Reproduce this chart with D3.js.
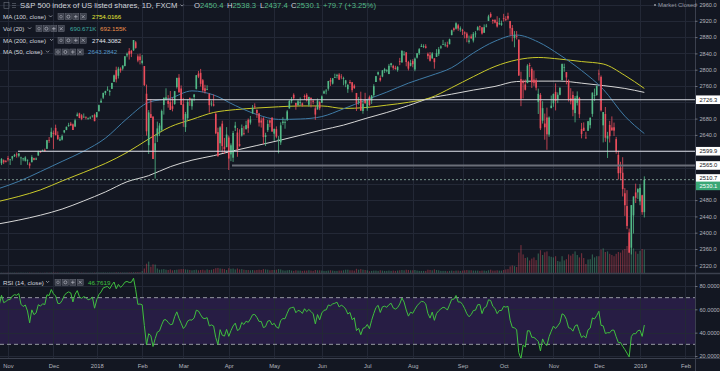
<!DOCTYPE html>
<html><head><meta charset="utf-8">
<script src="https://cdn.jsdelivr.net/npm/d3@7"></script>
<style>html,body{margin:0;padding:0;background:#131722;overflow:hidden}svg{display:block}text{font-family:"Liberation Sans",Arial,sans-serif}</style>
</head><body><svg id="c" width="720" height="371"></svg>
<script>
// ---- DATA (daily bars, Oct 2 2017 .. Jan 4 2019) ----
const opens=[2521.2,2530.3,2533.5,2540.9,2547.4,2551.4,2550.0,2550.6,2552.9,2555.7,2555.6,2557.2,2562.9,2553.4,2567.6,2578.1,2568.7,2566.5,2560.1,2570.3,2577.8,2576.0,
2583.2,2579.5,2581.9,2587.5,2592.1,2588.7,2584.0,2580.2,2576.5,2577.8,2569.4,2572.9,2582.9,2579.5,2589.2,2600.3,2600.4,2602.7,2605.9,2627.8,2633.9,
2645.1,2657.2,2639.8,2626.2,2628.4,2646.2,2652.2,2661.7,2667.6,2665.9,2660.6,2685.9,2692.7,2688.2,2683.0,2684.2,2679.1,2682.1,2686.1,2689.2,
2683.7,2697.9,2719.3,2731.3,2742.7,2751.2,2745.6,2753.0,2770.2,2799.0,2785.0,2802.4,2802.6,2809.2,2835.1,2845.4,2846.2,2847.5,2867.2,2832.7,2832.4,
2816.5,2808.9,2741.1,2614.8,2691.0,2685.0,2601.8,2636.8,2646.3,2651.8,2713.5,2727.1,2723.0,2720.5,2710.4,2715.8,2757.4,2780.5,2753.8,
2715.2,2658.9,2681.1,2730.2,2710.2,2732.8,2752.9,2790.5,2792.3,2774.1,2754.3,2750.6,2741.4,2715.1,2715.0,2691.4,2646.7,2619.4,2667.6,2611.3,2610.0,
2633.5,2592.2,2584.0,2657.4,2645.8,2617.2,2638.4,2643.9,2653.8,2676.9,2670.1,2692.7,2710.1,2701.2,2692.6,2675.4,2680.8,2634.9,2651.7,2675.5,2682.5,
2643.0,2654.2,2628.1,2621.5,2669.4,2670.3,2678.1,2705.0,2722.7,2738.4,2718.6,2712.6,2719.7,2717.4,2735.4,2738.3,2714.0,2730.9,2723.6,2705.1,2702.4,2721.0,
2718.7,2741.7,2748.5,2753.3,2774.8,2765.8,2780.2,2785.6,2787.9,2783.2,2777.8,2765.8,2752.0,2769.7,2769.3,2760.8,2742.9,2722.1,2728.5,2698.7,2727.1,
2705.0,2733.3,2724.2,2737.7,2769.8,2788.6,2779.8,2783.1,2796.9,2797.4,2789.3,2811.4,2809.4,2804.6,2799.2,2820.7,2817.7,2835.5,2842.4,2819.0,2809.7,
2821.2,2800.5,2829.6,2840.3,2855.9,2856.8,2857.2,2838.9,2835.5,2827.9,2828.0,2831.4,2838.3,2853.9,2861.5,2861.0,2860.3,2862.4,2884.7,2901.5,2900.6,2908.9,2898.4,
2897.0,2891.6,2888.6,2868.3,2881.4,2871.6,2888.3,2896.9,2906.4,2903.8,2890.7,2906.6,2919.7,2936.8,2921.8,2921.8,2917.0,2911.7,2910.0,
2926.3,2923.8,2931.7,2919.4,2902.5,2877.5,2882.5,2873.9,2776.9,2770.5,2763.8,2767.1,2811.7,2802.0,2775.7,2773.9,2721.0,2737.9,2674.9,2667.9,2682.7,2640.7,2705.6,
2717.6,2745.5,2726.4,2738.4,2774.1,2806.4,2794.1,2773.9,2730.1,2737.9,2693.5,2718.5,2730.7,2654.6,2657.7,2633.4,2650.0,2663.8,2691.5,2737.0,2737.8,
2790.5,2782.4,2663.5,2691.3,2630.9,2664.4,2658.2,2658.7,2629.7,2590.8,2559.9,2547.1,2496.8,2465.4,2400.6,2363.1,2442.5,2498.8,2498.9,
2477.0,2491.9,2450.4];
const highs=[2529.2,2535.1,2540.5,2552.5,2549.4,2551.8,2555.2,2555.2,2555.3,2557.7,2559.5,2559.7,2564.2,2562.4,2575.4,2578.3,2572.2,2567.4,2567.1,2583.0,2580.0,2578.3,
2588.4,2581.1,2588.4,2593.4,2597.0,2595.5,2586.5,2583.8,2587.7,2579.7,2572.8,2590.1,2584.0,2584.6,2601.2,2600.9,2604.2,2606.4,2627.7,2634.9,2657.7,
2650.6,2665.2,2648.7,2634.4,2641.0,2651.7,2660.3,2669.7,2671.9,2668.1,2679.6,2695.0,2694.4,2691.0,2692.6,2685.4,2682.7,2685.6,2687.7,2692.1,
2695.9,2714.4,2729.3,2743.5,2748.5,2759.1,2750.8,2767.6,2787.9,2807.5,2807.0,2805.8,2810.3,2833.0,2842.2,2853.0,2848.6,2872.9,2870.6,2837.8,2839.3,
2836.0,2808.9,2763.4,2701.0,2727.7,2685.3,2638.7,2672.6,2668.8,2702.1,2731.5,2754.4,2737.6,2747.8,2731.3,2747.8,2780.6,2789.2,2761.5,
2730.9,2696.3,2728.1,2732.1,2730.6,2740.5,2786.6,2797.0,2801.9,2777.1,2763.0,2761.9,2741.4,2724.2,2739.1,2695.7,2657.7,2661.4,2674.8,2632.7,2659.1,
2638.3,2619.1,2649.9,2672.1,2656.9,2653.6,2665.5,2661.4,2674.7,2680.3,2686.5,2713.3,2717.5,2702.8,2693.9,2682.9,2683.6,2645.3,2676.5,2677.4,2682.9,
2655.3,2660.9,2637.1,2670.9,2683.4,2676.3,2701.3,2726.1,2732.9,2742.1,2718.6,2727.8,2732.0,2719.5,2739.2,2742.2,2733.3,2732.0,2727.4,2710.7,2729.3,2722.5,
2736.9,2749.2,2752.6,2772.4,2779.9,2779.4,2790.2,2789.8,2791.5,2789.1,2782.8,2775.0,2765.1,2774.9,2769.3,2764.2,2742.9,2732.9,2746.1,2724.3,2743.3,
2727.3,2736.6,2737.8,2764.4,2784.7,2795.6,2785.9,2799.2,2804.5,2801.2,2814.2,2816.8,2812.1,2809.7,2808.6,2829.0,2848.0,2845.6,2843.2,2821.7,2824.5,
2825.8,2829.9,2840.4,2853.3,2863.4,2862.4,2862.5,2842.2,2843.4,2843.1,2828.0,2850.5,2855.6,2859.8,2873.2,2867.5,2868.8,2876.2,2898.3,2903.8,2916.5,2912.5,2906.3,
2900.2,2894.2,2892.1,2883.8,2886.9,2892.5,2894.7,2906.8,2908.3,2904.7,2911.2,2912.4,2934.8,2940.9,2923.8,2924.0,2931.2,2927.2,2920.5,
2937.1,2931.4,2939.9,2919.8,2909.6,2894.8,2894.8,2874.0,2795.1,2775.8,2776.0,2813.5,2816.9,2806.0,2797.8,2778.9,2753.6,2742.6,2722.7,2692.4,2706.9,2685.4,2736.7,
2741.7,2766.3,2744.3,2756.8,2815.2,2814.8,2794.1,2776.0,2754.6,2746.8,2735.4,2746.8,2733.2,2669.4,2670.7,2647.6,2674.4,2682.5,2744.0,2753.8,2760.9,
2800.2,2785.9,2696.1,2708.5,2647.5,2674.4,2685.4,2670.2,2635.1,2601.1,2574.0,2585.3,2509.6,2504.4,2410.3,2467.8,2489.1,2520.3,2509.2,
2519.5,2493.1,2538.3];
const lows=[2520.4,2528.9,2531.8,2540.0,2543.8,2541.6,2544.9,2547.9,2547.0,2552.0,2554.0,2554.0,2559.7,2547.9,2567.6,2564.3,2565.6,2544.0,2559.5,2565.9,2568.3,2572.2,
2574.9,2566.2,2576.8,2585.7,2584.1,2585.0,2566.3,2575.6,2574.5,2566.6,2557.4,2572.9,2577.6,2578.2,2589.2,2596.2,2600.4,2598.9,2605.4,2620.3,2633.9,
2605.5,2639.1,2627.7,2624.8,2626.5,2644.1,2651.5,2659.8,2662.9,2652.0,2659.1,2685.9,2680.7,2676.1,2682.4,2678.1,2678.0,2678.9,2682.7,2673.6,
2682.4,2697.8,2719.1,2727.9,2737.6,2747.9,2736.1,2752.8,2769.6,2768.6,2778.4,2792.6,2798.1,2808.1,2830.6,2824.8,2830.9,2846.2,2851.5,2818.3,2813.0,
2812.7,2760.0,2638.2,2593.1,2681.3,2580.6,2532.7,2622.4,2637.1,2648.9,2689.8,2725.1,2706.8,2701.3,2697.8,2713.7,2753.8,2744.2,2713.5,
2659.7,2647.3,2675.8,2711.3,2701.7,2722.7,2751.5,2779.3,2758.7,2744.4,2741.5,2750.0,2694.6,2710.1,2709.8,2641.6,2585.9,2601.8,2596.1,2593.1,2609.7,
2553.8,2575.5,2573.6,2649.6,2586.3,2610.8,2635.8,2639.3,2653.8,2645.1,2665.2,2692.1,2703.6,2681.9,2660.6,2658.0,2617.3,2612.7,2647.2,2659.0,2648.0,
2625.4,2631.7,2594.6,2615.3,2664.7,2655.2,2674.1,2704.5,2717.5,2725.9,2701.9,2712.2,2711.4,2709.2,2725.7,2721.9,2709.5,2707.4,2715.0,2676.8,2702.4,2700.7,
2718.7,2740.5,2739.5,2748.5,2760.2,2763.6,2779.9,2778.8,2774.7,2776.5,2761.7,2757.1,2743.2,2763.9,2744.4,2752.7,2698.7,2714.3,2699.0,2692.0,2716.0,
2699.0,2711.2,2716.0,2733.5,2769.8,2786.2,2770.8,2781.5,2791.7,2793.4,2789.2,2805.9,2799.8,2800.0,2795.1,2811.1,2817.7,2835.3,2808.3,2798.1,2808.1,
2805.9,2796.3,2827.4,2836.0,2855.9,2853.1,2852.0,2825.8,2819.9,2826.6,2802.5,2831.4,2833.7,2850.6,2861.3,2856.1,2854.0,2862.4,2884.7,2893.5,2898.4,2895.2,2893.0,
2885.1,2876.9,2867.3,2864.1,2875.9,2866.8,2879.2,2896.4,2895.8,2886.2,2890.4,2903.8,2919.7,2927.1,2912.6,2913.7,2903.3,2909.3,2907.5,
2917.9,2919.4,2921.4,2883.9,2869.3,2855.0,2874.3,2784.9,2710.5,2729.4,2749.0,2766.9,2781.8,2755.2,2760.3,2749.2,2691.4,2651.9,2667.8,2628.2,2603.5,2635.3,2705.6,
2708.9,2700.0,2717.9,2737.1,2774.1,2795.0,2764.2,2722.0,2715.0,2685.8,2670.8,2712.2,2681.1,2631.5,2649.8,2631.1,2650.0,2655.9,2684.4,2722.9,2736.0,
2773.4,2697.2,2621.5,2623.1,2583.2,2621.3,2650.3,2637.3,2593.8,2530.5,2528.7,2489.0,2441.2,2408.6,2351.1,2346.6,2397.9,2472.9,2482.8,
2467.5,2444.0,2437.4];
const closes=[2529.1,2534.6,2537.7,2552.1,2549.3,2544.7,2550.6,2555.2,2550.9,2553.2,2557.6,2559.4,2561.3,2562.1,2575.2,2565.0,2569.1,2557.2,2560.4,2581.1,2572.8,2575.3,
2579.4,2579.9,2587.8,2591.1,2590.6,2594.4,2584.6,2582.3,2584.8,2578.9,2564.6,2585.6,2578.9,2582.1,2599.0,2597.1,2602.4,2601.4,2627.0,2626.1,2647.6,
2642.2,2639.4,2629.6,2629.3,2637.0,2651.5,2660.0,2664.1,2662.9,2652.0,2675.8,2690.2,2681.5,2679.2,2684.6,2683.3,2680.5,2682.6,2687.5,2673.6,
2695.8,2713.1,2724.0,2743.2,2747.7,2751.3,2748.2,2767.6,2786.2,2776.4,2802.6,2798.0,2810.3,2833.0,2839.1,2837.5,2839.3,2872.9,2853.5,2822.4,2823.8,
2822.0,2762.1,2648.9,2695.1,2681.7,2581.0,2619.6,2656.0,2662.9,2698.6,2731.2,2732.2,2716.3,2701.3,2704.0,2747.3,2779.6,2744.3,2713.8,
2677.7,2691.3,2720.9,2728.1,2726.8,2739.0,2786.6,2783.0,2765.3,2749.5,2747.3,2752.0,2712.9,2716.9,2711.9,2643.7,2588.3,2658.6,2612.6,2605.0,2640.9,
2581.9,2614.5,2644.7,2662.8,2604.5,2613.2,2656.9,2642.2,2664.0,2656.3,2677.8,2706.4,2708.6,2693.1,2670.1,2670.3,2634.6,2639.4,2666.9,2669.9,2648.1,
2654.8,2635.7,2629.7,2663.4,2672.6,2671.9,2697.8,2723.1,2727.7,2730.1,2711.5,2722.5,2720.1,2713.0,2733.0,2724.4,2733.3,2727.8,2721.3,2689.9,2724.0,2705.3,
2734.6,2746.9,2748.8,2772.4,2770.4,2779.0,2782.0,2786.9,2775.6,2782.5,2779.7,2773.9,2762.6,2767.3,2749.8,2754.9,2717.1,2723.1,2699.6,2716.3,2718.4,
2726.7,2713.2,2736.6,2759.8,2784.2,2793.8,2774.0,2798.3,2801.3,2798.4,2809.6,2815.6,2804.5,2801.8,2807.0,2820.4,2846.1,2837.4,2818.8,2802.6,2816.3,
2813.4,2827.2,2840.4,2850.4,2858.5,2857.7,2853.6,2833.3,2821.9,2840.0,2818.4,2840.7,2850.1,2857.1,2863.0,2861.8,2857.0,2874.7,2896.7,2897.5,2914.0,2901.1,2901.5,
2896.7,2888.6,2878.1,2871.7,2877.1,2887.9,2888.9,2904.2,2905.0,2888.8,2904.3,2908.0,2930.8,2929.7,2919.4,2915.6,2906.0,2914.0,2914.0,
2924.6,2923.4,2925.5,2901.6,2885.6,2884.4,2880.3,2785.7,2728.4,2767.1,2750.8,2809.9,2809.2,2768.8,2767.8,2755.9,2740.7,2656.1,2705.6,2658.7,2641.3,2682.6,2711.7,
2740.4,2723.1,2738.3,2755.5,2813.9,2806.8,2781.0,2726.2,2722.2,2701.6,2730.2,2736.3,2690.7,2641.9,2649.9,2632.6,2673.5,2682.2,2743.8,2737.8,2760.2,
2790.4,2700.1,2696.0,2633.1,2637.7,2636.8,2651.1,2650.5,2600.0,2545.9,2546.2,2507.0,2467.4,2416.6,2351.1,2467.7,2488.8,2485.7,2506.9,
2510.0,2450.4,2530.1];
// volume in thousands
const volumes=[4,3,5,4,3,4,5,3,4,5,4,3,5,4,6,5,4,6,5,6,5,4,
8,9,7,10,8,9,12,10,8,11,13,10,9,8,10,7,6,9,14,12,15,
16,12,14,11,10,12,11,13,12,14,15,13,12,11,10,9,8,9,10,12,
14,16,15,18,14,15,17,16,18,22,20,18,17,16,18,20,22,24,26,30,28,
60,150,310,380,210,290,280,150,110,120,130,110,100,120,90,100,110,120,130,
130,120,110,100,90,100,110,90,100,110,90,120,100,110,130,160,170,150,140,130,100,
160,140,150,120,150,120,130,110,100,100,90,100,90,100,110,100,130,120,110,90,100,
100,110,130,120,90,80,90,100,80,70,90,80,80,70,80,80,90,80,70,100,90,90,
80,70,70,80,90,80,70,70,80,80,90,110,110,90,90,80,140,110,130,110,100,
90,60,70,80,80,70,90,80,70,70,80,70,80,70,80,90,100,90,110,100,90,
90,100,80,70,70,70,70,110,100,90,120,100,90,70,70,70,60,70,80,70,80,80,70,
80,90,100,90,90,80,80,80,70,80,80,70,90,110,80,80,90,80,80,
100,120,130,220,250,230,200,680,930,620,500,520,420,480,520,430,650,760,600,690,720,560,540,
520,560,400,380,560,420,460,620,580,640,720,600,520,660,500,300,450,460,620,520,560,
560,780,820,700,720,640,600,560,640,700,680,760,800,900,700,840,820,720,640,
740,800,780];
// moving averages at these bar numbers
const maIdx=[17,27,37,47,57,67,77,87,97,107,117,127,137,147,157,167,177,187,197,207,217,227,237,247,257,267,277,287,297,307,316];
const ma200=[2421,2431,2443,2458,2478,2500,2525,2540,2562,2578,2589,2602,2614,2626,2639,2652,2664,2680,2695,2712,2730,2740,2750,2759,2771,2772,2772,2767,2761,2754,2744.3];
const ma100=[2476,2489,2505,2527,2548,2570,2597,2630,2660,2678,2695,2702,2706,2709,2711,2711,2705,2707,2713,2720,2731,2756,2783,2808,2824,2830,2826,2820,2814,2786,2754.0];
const ma50=[2507,2526,2550,2575,2600,2632,2680,2720,2730,2748,2738,2712,2690,2678,2679,2685,2704,2725,2745,2767,2785,2805,2841,2870,2885,2868,2836,2798,2752,2686,2643.3];
// time axis: labels and the bar numbers they sit on
const monthLabels=["Nov","Dec","2018","Feb","Mar","Apr","May","Jun","Jul","Aug","Sep","Oct","Nov","Dec","2019","Feb"];
const monthIdx=[22,43,63,84,103,124,145,167,188,209,232,251,274,295,314,335];
const priceTicks=[2320,2360,2400,2440,2480,2520,2560,2600,2640,2680,2720,2760,2800,2840,2880,2920,2960];
const rsiTicks=[20,40,60,80];
const hLines=[2726.3,2599.9,2565.0,2510.7];
const titleText="S&P 500 index of US listed shares, 1D, FXCM";
const ohlcLabels=["O","H","L","C"];
const ohlcValues=["2450.4","2538.3","2437.4","2530.1"];
const changeText="+79.7 (+3.25%)";
const legendRows=[
 {name:"MA (100, close)",vals:["2754.0166"]},
 {name:"Vol (20)",vals:["690.671K","692.155K"]},
 {name:"MA (200, close)",vals:["2744.3082"]},
 {name:"MA (50, close)",vals:["2643.2842"]}];
const rsiName="RSI (14, close)", rsiValue="46.7619";

// ---- LAYOUT ----
const W=720,H=371,PR=695,MB=273,RT=274,RB=358;
const BG="#131722",GRID="#232836",UP="#53b987",DN="#eb4d5c",TXT="#b2b5be";
const x=d3.scaleLinear().domain([22,314]).range([8,640]);
const y=d3.scaleLinear().domain([2320,2960]).range([265.3,4.5]);
const yV=d3.scaleLinear().domain([0,1000]).range([MB,243]);
const yR=d3.scaleLinear().domain([20,80]).range([356,286]);
const lastClose=closes[closes.length-1];

const svg=d3.select("#c");
svg.append("rect").attr("width",W).attr("height",H).attr("fill",BG);
const defs=svg.append("defs");
defs.append("clipPath").attr("id","cm").append("rect").attr("x",0).attr("y",0).attr("width",PR).attr("height",MB);
defs.append("clipPath").attr("id","cr").append("rect").attr("x",0).attr("y",RT).attr("width",PR).attr("height",RB-RT);

// grid
const g=svg.append("g").attr("stroke",GRID).attr("stroke-width",1);
g.selectAll("line.h").data(priceTicks).join("line").attr("x1",0).attr("x2",PR)
 .attr("y1",d=>Math.round(y(d))+0.5).attr("y2",d=>Math.round(y(d))+0.5);
g.selectAll("line.v").data(monthIdx).join("line").attr("class","v").attr("y1",0).attr("y2",RB)
 .attr("x1",d=>Math.round(x(d))+0.5).attr("x2",d=>Math.round(x(d))+0.5);

// RSI pane background band + grid
const rp=svg.append("g").attr("clip-path","url(#cr)");
rp.append("rect").attr("x",0).attr("width",PR).attr("y",yR(70)).attr("height",yR(30)-yR(70)).attr("fill","#271d44");
rp.selectAll("line.rg").data(rsiTicks).join("line").attr("x1",0).attr("x2",PR)
 .attr("y1",d=>Math.round(yR(d))+0.5).attr("y2",d=>Math.round(yR(d))+0.5).attr("stroke",GRID);
rp.selectAll("line.v").data(monthIdx).join("line").attr("y1",RT).attr("y2",RB)
 .attr("x1",d=>Math.round(x(d))+0.5).attr("x2",d=>Math.round(x(d))+0.5).attr("stroke",GRID);
rp.selectAll("line.dl").data([70,30]).join("line").attr("x1",0).attr("x2",PR)
 .attr("y1",d=>yR(d)).attr("y2",d=>yR(d)).attr("stroke","#9598a1").attr("stroke-dasharray","4,3").attr("stroke-width",1);

const bars=closes.map((c,i)=>({i,o:opens[i],h:highs[i],l:lows[i],c,v:volumes[i]}));
const main=svg.append("g").attr("clip-path","url(#cm)");

// volume
main.selectAll("rect.vol").data(bars).join("rect")
 .attr("x",d=>x(d.i)-0.6).attr("width",1.2).attr("y",d=>yV(d.v)).attr("height",d=>MB-yV(d.v))
 .attr("fill",d=>d.c>=d.o?UP:DN).attr("opacity",0.42);

// moving averages
function maSeries(vals){return maIdx.map((i,k)=>({i,v:vals[k]}));}
const ml=d3.line().x(d=>x(d.i)).y(d=>y(d.v)).curve(d3.curveMonotoneX);
[[ma200,"#d6d6d6"],[ma100,"#c9c92a"],[ma50,"#3f7ba6"]].forEach(([v,col])=>{
 main.append("path").datum(maSeries(v)).attr("d",ml).attr("fill","none").attr("stroke",col).attr("stroke-width",1);
});

// candles
const cg=main.append("g");
cg.selectAll("line.w").data(bars).join("line")
 .attr("x1",d=>x(d.i)).attr("x2",d=>x(d.i)).attr("y1",d=>y(d.h)).attr("y2",d=>y(d.l))
 .attr("stroke",d=>d.c>=d.o?UP:DN).attr("stroke-width",0.8);
cg.selectAll("rect.b").data(bars).join("rect")
 .attr("x",d=>x(d.i)-0.8).attr("width",1.6)
 .attr("y",d=>y(Math.max(d.o,d.c))).attr("height",d=>Math.max(0.8,Math.abs(y(d.o)-y(d.c))))
 .attr("fill",d=>d.c>=d.o?UP:DN);

// horizontal drawn levels
const hStyle=[{x0:147,col:"#d1d4dc",w:1},{x0:18,col:"#e0e3eb",w:1},{x0:232,col:"#6b6e78",w:2}];
hStyle.forEach((s,k)=>{const p=hLines[k];
 main.append("line").attr("x1",s.x0).attr("x2",PR).attr("y1",y(p)).attr("y2",y(p)).attr("stroke",s.col).attr("stroke-width",s.w);
});
// last price line
main.append("line").attr("x1",0).attr("x2",PR).attr("y1",y(lastClose)).attr("y2",y(lastClose))
 .attr("stroke","#8fb3a4").attr("stroke-width",0.8).attr("stroke-dasharray","2,2");

// RSI line (Wilder, 14)
function rsi(c,n){const out=c.map(()=>null);let gs=0,ls=0;
 for(let i=1;i<=n;i++){const d=c[i]-c[i-1];if(d>0)gs+=d;else ls-=d;}
 gs/=n;ls/=n;out[n]=100-100/(1+gs/ls);
 for(let i=n+1;i<c.length;i++){const d=c[i]-c[i-1];gs=(gs*(n-1)+Math.max(d,0))/n;ls=(ls*(n-1)+Math.max(-d,0))/n;out[i]=ls===0?100:100-100/(1+gs/ls);}
 return out;}
const rsiVals=rsi(closes,14);
const rl=d3.line().defined(d=>d.v!=null).x(d=>x(d.i)).y(d=>yR(d.v));
rp.append("path").datum(rsiVals.map((v,i)=>({i,v}))).attr("d",rl).attr("fill","none").attr("stroke","#3fbf3f").attr("stroke-width",1);

// pane separators
svg.append("line").attr("x1",0).attr("x2",W).attr("y1",MB+0.5).attr("y2",MB+0.5).attr("stroke","#3b404e").attr("stroke-width",1.5);
svg.append("line").attr("x1",0).attr("x2",W).attr("y1",RB+0.5).attr("y2",RB+0.5).attr("stroke","#3b404e");
svg.append("line").attr("x1",PR+0.5).attr("x2",PR+0.5).attr("y1",0).attr("y2",H).attr("stroke","#3b404e");

// axes (ticks that sit under the level boxes are hidden, as in the reference)
const boxPrices=[hLines[0],hLines[1],hLines[2],lastClose,hLines[3]];
const visTicks=priceTicks.filter(t=>boxPrices.every(p=>Math.abs(p-t)>14));
const ax=svg.append("g").attr("transform",`translate(${PR},0)`)
 .call(d3.axisRight(y).tickValues(visTicks).tickFormat(d3.format(".1f")).tickSize(2.5).tickPadding(2));
const axR=svg.append("g").attr("transform",`translate(${PR},0)`)
 .call(d3.axisRight(yR).tickValues(rsiTicks).tickFormat(d3.format(".4f")).tickSize(2.5).tickPadding(2));
const axT=svg.append("g").attr("transform",`translate(0,${RB})`)
 .call(d3.axisBottom(x).tickValues(monthIdx).tickFormat((d,k)=>monthLabels[k]).tickSize(0).tickPadding(6));
[ax,axR,axT].forEach(a=>{a.select(".domain").remove();a.selectAll("line").attr("stroke","#6a6d78");
 a.selectAll("text").attr("fill",TXT).attr("font-size",5.6).attr("font-family","'Liberation Sans',Arial,sans-serif");});
axT.selectAll("text").attr("font-size",5.8);

// right-side price labels
function priceBox(yc,txt,bg,fg){
 svg.append("rect").attr("x",PR+1).attr("y",yc-4.3).attr("width",W-PR-1).attr("height",8.6).attr("fill",bg);
 svg.append("text").attr("x",PR+4.5).attr("y",yc+2).attr("font-size",5.8).attr("fill",fg).text(txt);
}
priceBox(y(hLines[0]),d3.format(".1f")(hLines[0]),"#ffffff","#131722");
priceBox(y(hLines[1]),d3.format(".1f")(hLines[1]),"#ffffff","#131722");
priceBox(y(hLines[2]),d3.format(".1f")(hLines[2]),"#ffffff","#131722");
priceBox(y(lastClose)-1.2,d3.format(".1f")(hLines[3]),"#ffffff","#131722");
priceBox(y(lastClose)+6.2,d3.format(".1f")(lastClose),"#3aa776","#ffffff");

// legend
function chevron(x0,yc){svg.append("path").attr("d",`M${x0},${yc-1}l1.6,1.6l1.6,-1.6`).attr("fill","none").attr("stroke","#b2b5be").attr("stroke-width",0.7);}
function icons(x0,yc){
 for(let k=0;k<4;k++){const xx=x0+k*7.4;
  svg.append("rect").attr("x",xx).attr("y",yc-3).attr("width",6).attr("height",6).attr("fill","#3c404c").attr("stroke","#6a6e7a").attr("stroke-width",0.5);
  if(k===0) svg.append("circle").attr("cx",xx+3).attr("cy",yc).attr("r",1.3).attr("fill","none").attr("stroke","#b2b5be").attr("stroke-width",0.5);
  if(k===1) svg.append("circle").attr("cx",xx+3).attr("cy",yc).attr("r",1.5).attr("fill","none").attr("stroke","#b2b5be").attr("stroke-width",0.7);
  if(k===2) svg.append("path").attr("d",`M${xx+1.2},${yc}h3.6M${xx+3},${yc-1.8}v3.6`).attr("stroke","#b2b5be").attr("stroke-width",0.7);
  if(k===3) svg.append("path").attr("d",`M${xx+1.5},${yc-1.5}l3,3M${xx+4.5},${yc-1.5}l-3,3`).attr("stroke","#b2b5be").attr("stroke-width",0.7);
 }}
// title row
svg.append("rect").attr("x",4).attr("y",2.5).attr("width",5).attr("height",6).attr("fill","none").attr("stroke","#6a6e7a").attr("stroke-width",0.6);
svg.append("path").attr("d","M12,3.5h4M12,5.5h4M12,7.5h4").attr("stroke","#6a6e7a").attr("stroke-width",0.6);
svg.append("text").attr("x",20).attr("y",8).attr("font-size",7.7).attr("fill","#d1d4dc").text(titleText);
chevron(180.5,5.5);
const ohlcX=[194,227,260,291];
ohlcLabels.forEach((l,k)=>{
 const t=svg.append("text").attr("x",ohlcX[k]).attr("y",8).attr("font-size",7.7);
 t.append("tspan").attr("fill","#d1d4dc").text(l);
 t.append("tspan").attr("fill",UP).text(ohlcValues[k]);
});
svg.append("text").attr("x",323).attr("y",8).attr("font-size",7.7).attr("fill",UP).text(changeText);
// market closed
svg.append("circle").attr("cx",655).attr("cy",5).attr("r",1).attr("fill","#9598a1");
svg.append("text").attr("x",658).attr("y",7).attr("font-size",6).attr("fill","#9598a1").text("Market Closed");

const rowY=[16.7,28.7,40.3,52];
const rowLayout=[{chev:49,ic:58,vx:[92]},{chev:28,ic:36,vx:[70,100]},{chev:50,ic:58,vx:[92]},{chev:46,ic:55,vx:[88]}];
const valCols=[["#e8e835"],["#3fa9a0","#f0904a"],["#e0e3eb"],["#5596c8"]];
legendRows.forEach((r,k)=>{const yc=rowY[k],L=rowLayout[k];
 svg.append("text").attr("x",3).attr("y",yc+2.2).attr("font-size",6.2).attr("fill","#d1d4dc").text(r.name);
 chevron(L.chev,yc-0.3); icons(L.ic,yc);
 r.vals.forEach((v,j)=>svg.append("text").attr("x",L.vx[j]).attr("y",yc+2.2).attr("font-size",6.2).attr("fill",valCols[k][j]).text(v));
});
// RSI legend
svg.append("text").attr("x",3).attr("y",284.5).attr("font-size",6.2).attr("fill","#d1d4dc").text(rsiName);
chevron(46,282); icons(55,282.3);
svg.append("text").attr("x",88).attr("y",284.5).attr("font-size",6.2).attr("fill","#3fc23f").text(rsiValue);
</script></body></html>
